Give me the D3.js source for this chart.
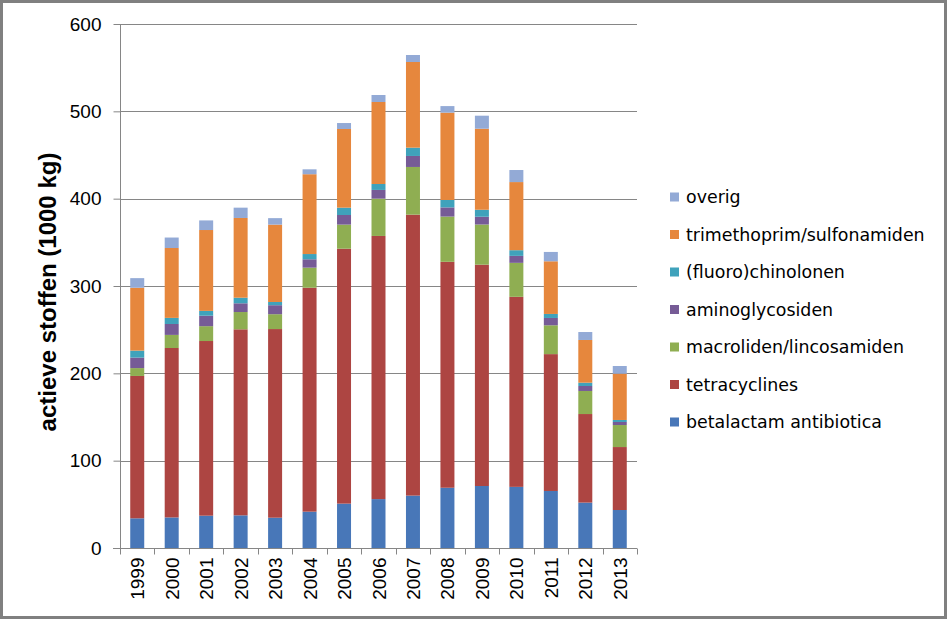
<!DOCTYPE html>
<html>
<head>
<meta charset="utf-8">
<script src="https://cdn.jsdelivr.net/npm/d3@7"></script>
<style>
  html, body { margin: 0; padding: 0; background: #fff; }
  svg { display: block; }
</style>
</head>
<body>
<svg id="chart" width="947" height="619"></svg>
<script>
const years = ["1999","2000","2001","2002","2003","2004","2005","2006","2007","2008","2009","2010","2011","2012","2013"];
const seriesNames = ["betalactam antibiotica","tetracyclines","macroliden/lincosamiden","aminoglycosiden","(fluoro)chinolonen","trimethoprim/sulfonamiden","overig"];
const betalactam = [34, 35, 37, 37.4, 34.7, 41.6, 50.8, 56, 60, 69, 71, 70, 65.3, 52, 43.5];
const tetracyclines = [163, 194, 200, 213, 216, 256.4, 291.9, 301.3, 321.7, 258.7, 253.4, 217.6, 156.7, 101.4, 72.1];
const macroliden = [9, 15, 17, 19.8, 17, 23, 27.6, 42.7, 54.6, 51.8, 46, 38.9, 33, 26.4, 25.2];
const aminoglycosiden = [12, 12.5, 12, 10, 10.3, 9.6, 11, 10, 12.6, 10.5, 8.9, 8, 8.4, 5.7, 3.5];
const chinolonen = [8, 7, 5.5, 6.4, 3.7, 6, 8.4, 6.8, 9.5, 8.5, 8, 6.5, 4.6, 3.8, 2.3];
const trimethoprim = [72, 80, 92.6, 91.3, 88.6, 91.4, 90.1, 93.9, 98.1, 100, 92.8, 78, 60.3, 48.9, 53];
const overig = [11, 12, 11, 11.8, 7.4, 5.6, 6.8, 8, 8, 7.5, 14.9, 13.8, 10.7, 9.1, 8.8];
const yTicks = [0, 100, 200, 300, 400, 500, 600];
const yTitle = "actieve stoffen (1000 kg)";

const seriesValues = [betalactam, tetracyclines, macroliden, aminoglycosiden, chinolonen, trimethoprim, overig];
const colors = ["#4877B8","#AD4542","#8FAE52","#765B96","#3FA2BB","#E6873D","#93AAD6"];

(function () {
const rows = years.map((yr, i) => {
  const r = { year: yr };
  seriesNames.forEach((s, k) => r[s] = seriesValues[k][i]);
  return r;
});
const stack = d3.stack().keys(seriesNames)(rows);

const svg = d3.select("#chart");
const W = 947, H = 619;
const pLeft = 120, pRight = 637, pTop = 24, pBottom = 548;

svg.append("rect").attr("x", 1.5).attr("y", 1.5).attr("width", W - 3).attr("height", H - 3)
  .attr("fill", "#fff").attr("stroke", "#808080").attr("stroke-width", 3);

const x = d3.scaleBand().domain(years).range([pLeft, pRight]).paddingInner(0.594).paddingOuter(0.297);
const y = d3.scaleLinear().domain([0, 600]).range([pBottom, pTop]);
const axisColor = "#868686";
const tickFont = "'Liberation Sans', Arial, sans-serif";

// gridlines
svg.append("g").selectAll("line").data(yTicks.filter(t => t > 0)).join("line")
  .attr("x1", pLeft).attr("x2", pRight)
  .attr("y1", d => Math.round(y(d)) + 0.5).attr("y2", d => Math.round(y(d)) + 0.5)
  .attr("stroke", axisColor).attr("stroke-width", 1);

// bars
svg.append("g").selectAll("g").data(stack).join("g")
  .attr("fill", (d, i) => colors[i])
  .selectAll("rect").data(d => d).join("rect")
  .attr("x", d => x(d.data.year))
  .attr("width", x.bandwidth())
  .attr("y", d => y(d[1]))
  .attr("height", d => y(d[0]) - y(d[1]));

// y axis
const yAxis = d3.axisLeft(y).tickValues(yTicks).tickSize(7).tickPadding(12).tickFormat(d3.format("d"));
const gy = svg.append("g").attr("transform", `translate(${pLeft + 0.5},0)`).call(yAxis);
gy.select(".domain").attr("stroke", axisColor).attr("d", `M0,${pTop}V${pBottom}`);
gy.selectAll(".tick line").attr("stroke", axisColor);
gy.selectAll(".tick text").attr("font-family", tickFont).attr("font-size", 19).attr("fill", "#000");

// x axis
const gx = svg.append("g").attr("transform", `translate(0,${pBottom + 0.5})`);
gx.append("line").attr("x1", pLeft - 7).attr("x2", pRight).attr("y1", 0).attr("y2", 0).attr("stroke", axisColor);
const boundaries = years.map(yy => x(yy) - x.step() * x.paddingInner() / 2).concat([pRight]);
gx.selectAll("line.tk").data(boundaries).join("line").attr("class", "tk")
  .attr("x1", d => Math.round(d) + 0.5).attr("x2", d => Math.round(d) + 0.5)
  .attr("y1", 0).attr("y2", 6).attr("stroke", axisColor);
gx.selectAll("text").data(years).join("text")
  .attr("transform", d => `translate(${x(d) + x.bandwidth() / 2 + 7},9) rotate(-90)`)
  .attr("text-anchor", "end")
  .attr("font-family", tickFont).attr("font-size", 19).attr("fill", "#000")
  .text(d => d);

// y title
svg.append("text")
  .attr("transform", `translate(56,292) rotate(-90)`)
  .attr("text-anchor", "middle")
  .attr("font-family", tickFont).attr("font-weight", "bold").attr("font-size", 24).attr("fill", "#000")
  .text(yTitle);

// legend
const legendNames = seriesNames.slice().reverse();
const legendColors = colors.slice().reverse();
const lg = svg.append("g");
legendNames.forEach((n, i) => {
  const cy = 197 + i * 37.5;
  lg.append("rect").attr("x", 670).attr("y", cy - 4.5).attr("width", 9).attr("height", 9).attr("fill", legendColors[i]);
  lg.append("text").attr("x", 686).attr("y", cy).attr("dy", "0.35em")
    .attr("font-family", "'DejaVu Sans', Verdana, sans-serif").attr("font-size", 17.4).attr("fill", "#000")
    .text(n);
});
})();
</script>
</body>
</html>
